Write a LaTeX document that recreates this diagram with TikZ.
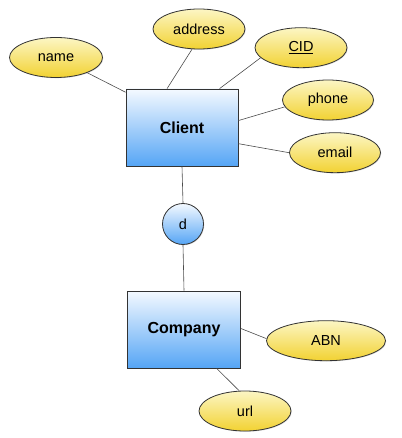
\documentclass[tikz,border=0pt]{standalone}
\usepackage{fontspec}
\setmainfont{Liberation Sans}
\usetikzlibrary{shapes.geometric,shadows}
\definecolor{attrtop}{HTML}{FCF6C4}
\definecolor{attrbot}{HTML}{F2D232}
\definecolor{enttop}{HTML}{F4F9FF}
\definecolor{entbot}{HTML}{55A5F5}
\begin{document}
\begin{tikzpicture}[x=1pt,y=-1pt,
    entity/.style={draw=black!80,line width=0.8pt,rectangle,minimum width=113pt,minimum height=77pt,
      top color=enttop,bottom color=entbot,font=\fontsize{16}{18}\selectfont\bfseries,
      drop shadow={shadow xshift=0.8pt,shadow yshift=-0.8pt,opacity=0.25}},
    attr/.style={draw=black!80,line width=0.8pt,ellipse,minimum width=92pt,minimum height=40pt,inner sep=0pt,
      top color=attrtop,bottom color=attrbot,font=\fontsize{14.5}{16}\selectfont,
      drop shadow={shadow xshift=0.8pt,shadow yshift=-0.8pt,opacity=0.25}},
    disj/.style={draw=black!80,line width=0.8pt,circle,minimum size=41pt,inner sep=0pt,
      top color=enttop,bottom color=entbot,font=\fontsize{14.5}{16}\selectfont,
      drop shadow={shadow xshift=0.8pt,shadow yshift=-0.8pt,opacity=0.25}},
    link/.style={draw=black!70,line width=0.6pt}]
  \useasboundingbox (0,0) rectangle (401,438);
  % entities
  \node[entity,minimum width=112pt] (client) at (182,127.5) {Client};
  \node[entity] (company) at (184,329.5) {Company};
  \node[disj] (d) at (183,224) {d};
  % attributes
  \node[attr,minimum width=93pt] (name) at (56,57.5) {name};
  \node[attr] (address) at (199,29) {address};
  \node[attr] (cid) at (301,47.7) {\underline{CID}};
  \node[attr,minimum width=91pt] (phone) at (328,100) {phone};
  \node[attr,minimum width=91pt] (email) at (335,152.7) {email};
  \node[attr,minimum width=119pt] (abn) at (326,340.7) {ABN};
  \node[attr] (url) at (245,411) {url};
  % links
  \draw[link] (name.-26) -- (client.148);
  \draw[link] (address.-109) -- (client.111);
  \draw[link] (cid.194) -- (client.46);
  \draw[link] (phone.189) -- (client.7.5);
  \draw[link] (email.180) -- (client.-16);
  \draw[link] (client.south) -- (d.north);
  \draw[link] (d.south) -- (company.north);
  \draw[link] (abn.178) -- (company.1.5);
  \draw[link] (url.106) -- (company.-50);
\end{tikzpicture}
\end{document}
